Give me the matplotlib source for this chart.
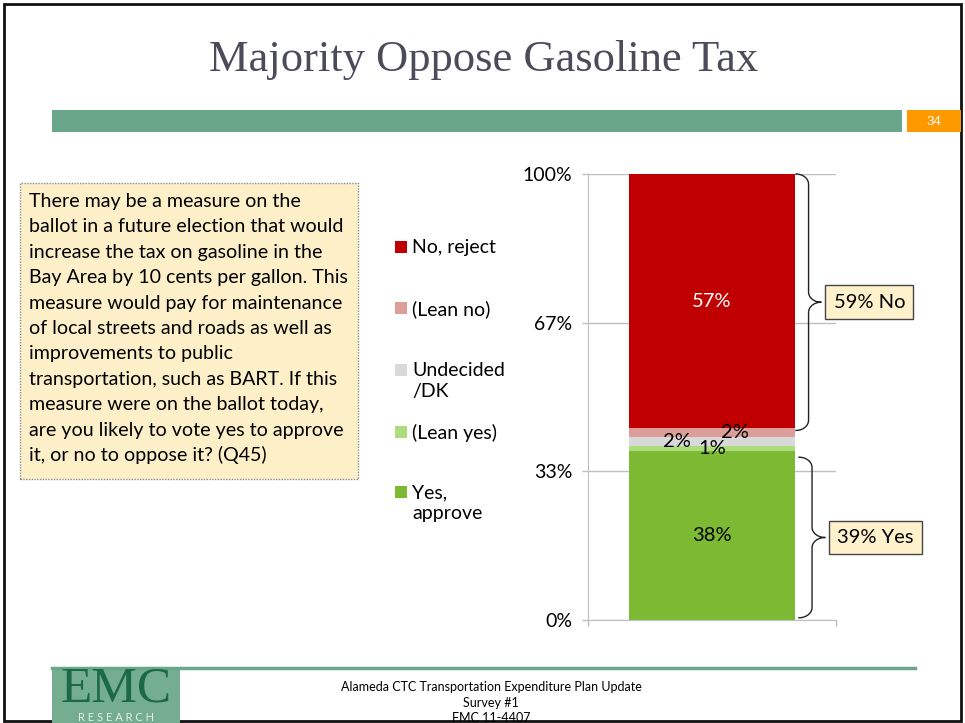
import numpy as np
import matplotlib.pyplot as plt
from matplotlib.patches import Rectangle

# data
categories = ['Yes,\napprove', '(Lean yes)', 'Undecided\n/DK', '(Lean no)', 'No, reject']
values = [38, 1, 2, 2, 57]
colors = ['#7dba33', '#addc7c', '#d9d9d9', '#dc9e98', '#c00000']
label_colors = ['black', 'black', 'black', 'black', 'white']
label_dx = [0.0, 0.0, -0.21, 0.14, 0.0]      # offsets so the small labels don't collide
ytick_vals = [0, 100 / 3, 200 / 3, 100]
ytick_labels = ['0%', '33%', '67%', '100%']
yes_total = sum(values[:2])
no_total = sum(values[3:])

question = [
    "There may be a measure on the",
    "ballot in a future election that would",
    "increase the tax on gasoline in the",
    "Bay Area by 10 cents per gallon. This",
    "measure would pay for maintenance",
    "of local streets and roads as well as",
    "improvements to public",
    "transportation, such as BART. If this",
    "measure were on the ballot today,",
    "are you likely to vote yes to approve",
    "it, or no to oppose it? (Q45)",
]

W, H = 965, 723
SANS = ['Lato', 'DejaVu Sans']
GREEN = '#6aa68a'


def fx(x):
    return x / W


def fy(y):
    return 1 - y / H


fig = plt.figure(figsize=(W / 100, H / 100), dpi=100)

# slide frame
fig.patches.append(Rectangle((fx(4), fy(721)), fx(957), (717) / H, transform=fig.transFigure,
                             fill=False, edgecolor='#111111', lw=2))

# title + header bar
fig.text(fx(484), fy(60), 'Majority Oppose Gasoline Tax', ha='center', va='center',
         family=['Liberation Serif', 'DejaVu Serif'], fontsize=32, color='#4b4b5a')
fig.patches.append(Rectangle((fx(52), fy(132)), fx(850), 22 / H, transform=fig.transFigure,
                             color=GREEN, lw=0))
fig.patches.append(Rectangle((fx(907), fy(132)), fx(54), 22 / H, transform=fig.transFigure,
                             color='#ff9900', lw=0))
fig.text(fx(934), fy(122), '34', ha='center', va='center', color='white',
         family=['Liberation Sans', 'DejaVu Sans'], fontsize=9.5)

# question box
fig.patches.append(Rectangle((fx(20), fy(479)), fx(338), 296 / H, transform=fig.transFigure,
                             facecolor='#fdf0c9', edgecolor='#8a8a8a', lw=1, ls=(0, (1, 1))))
for i, line in enumerate(question):
    fig.text(fx(29), fy(207 + i * 25.4), line, ha='left', va='baseline',
             family=SANS, fontsize=14.1, color='black')

# legend
legend_y = [492, 432, 370, 308, 247]
for cat, col, ly in zip(categories, colors, legend_y):
    fig.patches.append(Rectangle((fx(395), fy(ly + 6)), fx(12), 12 / H,
                                 transform=fig.transFigure, color=col, lw=0))
    fig.text(fx(412), fy(ly - 8), cat, ha='left', va='top', family=SANS,
             fontsize=14, linespacing=1.3)

# chart
ax = fig.add_axes([fx(588), fy(620), fx(248), 446 / H])
bottoms = np.concatenate([[0], np.cumsum(values)[:-1]])
ax.bar(0, values, bottom=bottoms, width=1.0, color=colors, zorder=2)
for v, b, c, dx in zip(values, bottoms, label_colors, label_dx):
    ax.text(dx, b + v / 2, f'{v}%', ha='center', va='center', color=c,
            family=SANS, fontsize=14.5, zorder=3)

ax.set_xlim(-0.75, 0.75)
ax.set_ylim(0, 100)
ax.set_yticks(ytick_vals)
ax.set_yticklabels(ytick_labels, family=SANS, fontsize=14)
ax.set_xticks([-0.75, 0.75])
ax.set_xticklabels([])
ax.tick_params(axis='both', length=4.3, color='#bfbfbf', width=1, pad=7)
ax.yaxis.grid(True, color='#bfbfbf', lw=1)
ax.set_axisbelow(True)
for s in ['top', 'right']:
    ax.spines[s].set_visible(False)
for s in ['left', 'bottom']:
    ax.spines[s].set_color('#bfbfbf')


def brace(ax, x, y0, y1, rx, ry):
    ym = (y0 + y1) / 2
    a1 = np.linspace(np.pi / 2, 0, 20)
    a2 = np.linspace(np.pi, 1.5 * np.pi, 20)
    a3 = np.linspace(np.pi / 2, np.pi, 20)
    a4 = np.linspace(0, -np.pi / 2, 20)
    xs = np.concatenate([x + rx * np.cos(a1), x + 2 * rx + rx * np.cos(a2),
                         x + 2 * rx + rx * np.cos(a3), x + rx * np.cos(a4)])
    ys = np.concatenate([y1 - ry + ry * np.sin(a1), ym + ry + ry * np.sin(a2),
                         ym - ry + ry * np.sin(a3), y0 + ry + ry * np.sin(a4)])
    ax.plot(xs, ys, color='#222222', lw=1, clip_on=False, zorder=4)
    return x + 2 * rx, ym


box = dict(boxstyle='square,pad=0.42', facecolor='#fff1cc', edgecolor='#444444', lw=1)
tx, ty = brace(ax, 0.508, sum(values[:3]) + 1.5, 100, 0.076, 2.3)
ax.text(tx + 0.075, ty, f'{no_total}% No', ha='left', va='center', family=SANS,
        fontsize=14.5, bbox=box, zorder=5)
tx, ty = brace(ax, 0.526, 0.5, yes_total - 2.5, 0.079, 2.3)
ax.text(tx + 0.075, ty, f'{yes_total}% Yes', ha='left', va='center', family=SANS,
        fontsize=14.5, bbox=box, zorder=5)

# footer
fig.add_artist(plt.Line2D([fx(52), fx(915)], [fy(668), fy(668)], color=GREEN, lw=2.5))
fig.patches.append(Rectangle((fx(52), fy(723)), fx(128), 53 / H, transform=fig.transFigure,
                             color='#74ad90', lw=0))
fig.text(fx(116), fy(701), 'EMC', ha='center', va='baseline', color='#1c6a45',
         family=['Liberation Serif', 'DejaVu Serif'], fontsize=37)
fig.text(fx(116), fy(721), 'R E S E A R C H', ha='center', va='baseline', color='#e6efe9',
         family=SANS, fontsize=8)
fig.text(fx(491), fy(687), 'Alameda CTC Transportation Expenditure Plan Update', ha='center',
         va='center', family=SANS, fontsize=9)
fig.text(fx(491), fy(703), 'Survey #1', ha='center', va='center', family=SANS, fontsize=9)
fig.text(fx(491), fy(718), 'FMC 11-4407', ha='center', va='center', family=SANS, fontsize=9)

fig.savefig('out.png', dpi=100)
